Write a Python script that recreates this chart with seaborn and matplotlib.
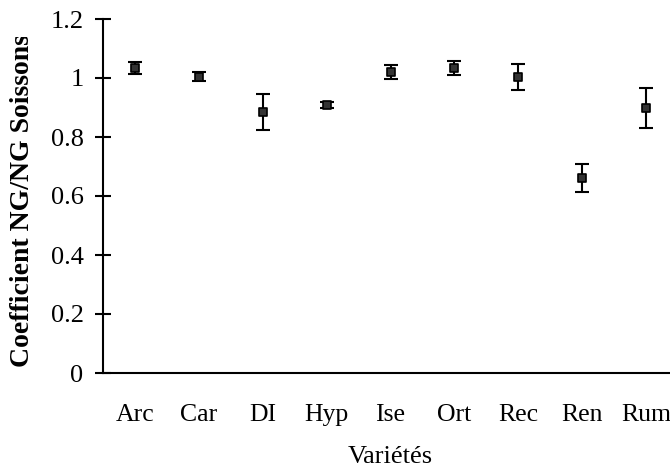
import seaborn as sns
import pandas as pd
import matplotlib.pyplot as plt
from matplotlib.transforms import Bbox, TransformedBbox

varietes = ['Arc', 'Car', 'DI', 'Hyp', 'Ise', 'Ort', 'Rec', 'Ren', 'Rum']
coeff = [1.035, 1.005, 0.885, 0.910, 1.020, 1.035, 1.003, 0.661, 0.898]
erreur = [0.020, 0.014, 0.061, 0.010, 0.025, 0.024, 0.045, 0.047, 0.067]

df = pd.DataFrame({'Variete': varietes, 'Coeff': coeff, 'Err': erreur})

sns.set_style('white')
plt.rcParams['font.family'] = ['Liberation Serif', 'DejaVu Serif']
plt.rcParams['text.color'] = 'black'
plt.rcParams['xtick.color'] = 'black'
plt.rcParams['ytick.color'] = 'black'
plt.rcParams['axes.labelcolor'] = 'black'

fig = plt.figure(figsize=(6.7, 4.76), dpi=100)
ax = fig.add_axes([103/670, 103/476, 575/670, 354/476])

# error bars first, points on top
ax.errorbar(range(len(df)), df['Coeff'], yerr=df['Err'], fmt='none',
            ecolor='black', elinewidth=1.5, capsize=5, capthick=1.5, zorder=2)
sns.scatterplot(data=df, x='Variete', y='Coeff', ax=ax, marker='s', s=34,
                color='#333333', edgecolor='black', linewidth=1.2, zorder=3)

ax.set_xlim(-0.5, 8.5)
ax.set_ylim(0, 1.2)
ax.set_yticks([0, 0.2, 0.4, 0.6, 0.8, 1.0, 1.2])
ax.set_yticklabels(['0', '0.2', '0.4', '0.6', '0.8', '1', '1.2'])

for s in ['top', 'right']:
    ax.spines[s].set_visible(False)
for s in ['left', 'bottom']:
    ax.spines[s].set_linewidth(1.5)
    ax.spines[s].set_color('black')

ax.tick_params(axis='y', direction='inout', length=12, width=1.5, pad=8,
               labelsize=19, left=True)
ax.tick_params(axis='x', length=0, pad=22, labelsize=18.5)

ax.set_xlabel('Variétés', fontsize=19, labelpad=15)
ax.set_ylabel('')

yl = fig.text(23/670, 109/476, 'Coefficient NG/NG Soissons', rotation=90,
              ha='center', va='bottom', fontsize=20, fontweight='bold')
yl.set_clip_box(TransformedBbox(Bbox([[0, 0], [1, (476-37)/476]]), fig.transFigure))
yl.set_clip_on(True)

fig.savefig('out.png', dpi=100)
